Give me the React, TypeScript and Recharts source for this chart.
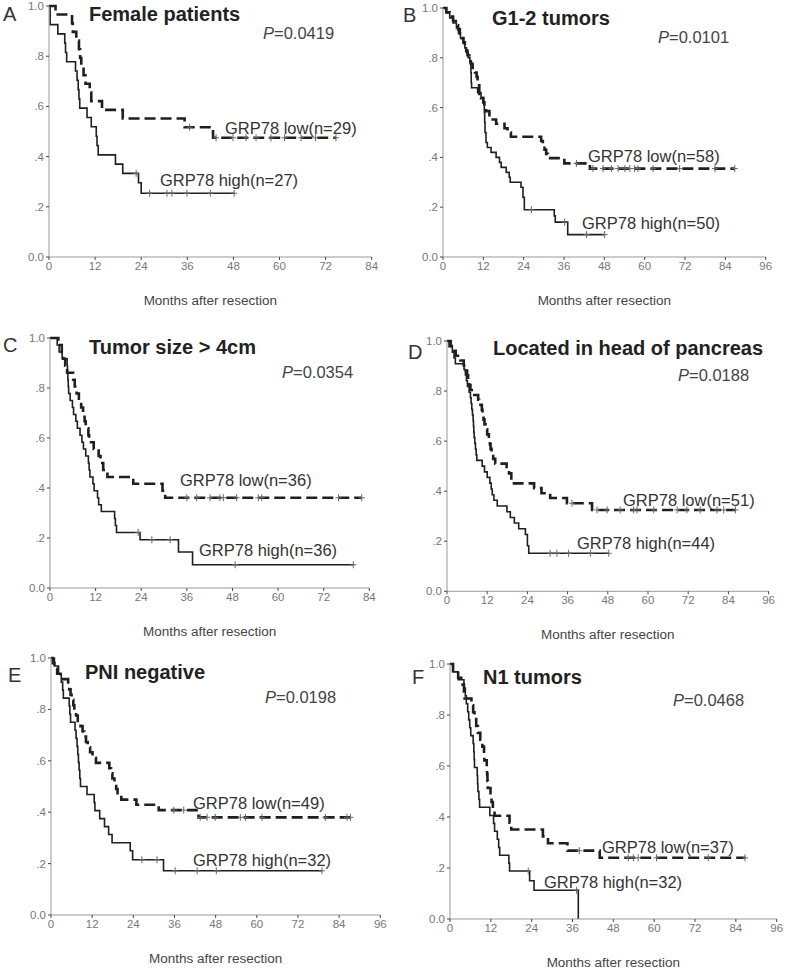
import React from 'react';
import { ComposedChart, Line, XAxis, YAxis, Label } from 'recharts';

// ---- tick labels ----
const xTicks84 = [0, 12, 24, 36, 48, 60, 72, 84];
const xTicks96 = [0, 12, 24, 36, 48, 60, 72, 84, 96];
const yTicks = [0, 0.2, 0.4, 0.6, 0.8, 1];
const yTickLabels = ['0.0', '.2', '.4', '.6', '.8', '1.0'];

// ---- panel texts ----
const panelLetters = ['A', 'B', 'C', 'D', 'E', 'F'];
const panelTitles = ['Female patients', 'G1-2 tumors', 'Tumor size > 4cm', 'Located in head of pancreas', 'PNI negative', 'N1 tumors'];
const pValues = ['0.0419', '0.0101', '0.0354', '0.0188', '0.0198', '0.0468'];
const lowN = [29, 58, 36, 51, 49, 37];
const highN = [27, 50, 36, 44, 32, 32];

// ---- Kaplan-Meier steps [month, survival] and censored months ----
const aLowSteps = [[0, 1], [1.7, 0.966], [6.0, 0.931], [6.2, 0.897], [7.1, 0.862], [7.8, 0.828], [8.1, 0.793], [8.4, 0.759], [9.0, 0.724], [9.5, 0.69], [10.6, 0.655], [11.0, 0.621], [13.8, 0.586], [19.2, 0.552], [35.3, 0.517], [42.7, 0.475]];
const aLowCensored = [36.6, 43.5, 47.9, 51.3, 53.9, 57.8, 61.3, 65.6, 69.4, 74.7];
const aHighSteps = [[0, 1], [0.3, 0.926], [2.3, 0.889], [4.1, 0.852], [4.3, 0.815], [4.6, 0.778], [6.9, 0.741], [7.3, 0.704], [7.6, 0.667], [7.8, 0.63], [8.0, 0.593], [9.9, 0.556], [11.0, 0.519], [12.3, 0.481], [12.5, 0.444], [12.8, 0.407], [17.3, 0.37], [19.2, 0.333], [23.3, 0.296], [24.0, 0.254]];
const aHighCensored = [22.7, 26.2, 30.7, 32.0, 35.9, 42.0, 48.2];

const bLowSteps = [[0, 1], [1.0, 0.983], [2.0, 0.966], [3.0, 0.948], [3.8, 0.931], [4.5, 0.914], [5.0, 0.897], [5.6, 0.879], [6.1, 0.862], [6.5, 0.845], [6.9, 0.828], [7.3, 0.81], [7.8, 0.793], [8.3, 0.776], [8.8, 0.759], [9.5, 0.741], [10.0, 0.724], [10.3, 0.69], [10.8, 0.655], [11.3, 0.638], [12.0, 0.621], [12.3, 0.603], [12.8, 0.586], [13.8, 0.569], [14.8, 0.552], [15.8, 0.535], [18.3, 0.517], [19.2, 0.5], [20.2, 0.483], [29.2, 0.466], [29.7, 0.448], [30.2, 0.431], [30.7, 0.414], [31.2, 0.397], [36.1, 0.376], [43.7, 0.355]];
const bLowCensored = [39.7, 44.6, 47.6, 50.1, 52.1, 54.1, 55.6, 57.0, 58.0, 62.5, 70.4, 80.9, 86.8];
const bHighSteps = [[0, 1], [1.0, 0.98], [2.0, 0.96], [3.0, 0.94], [4.0, 0.92], [4.6, 0.9], [5.2, 0.88], [6.0, 0.86], [6.5, 0.84], [7.0, 0.82], [7.5, 0.8], [8.0, 0.78], [8.3, 0.74], [8.4, 0.7], [8.5, 0.68], [10.3, 0.66], [11.3, 0.64], [12.0, 0.62], [12.3, 0.58], [12.4, 0.54], [12.5, 0.5], [12.8, 0.46], [13.2, 0.44], [14.3, 0.42], [15.8, 0.4], [16.8, 0.38], [17.3, 0.36], [18.8, 0.34], [19.7, 0.32], [20.0, 0.3], [23.2, 0.28], [23.8, 0.24], [24.2, 0.19], [33.1, 0.165], [33.4, 0.14], [37.1, 0.09]];
const bHighCensored = [26.3, 36.2, 42.7, 48.1];

const cLowSteps = [[0, 1], [2.2, 0.972], [3.1, 0.944], [3.5, 0.917], [4.0, 0.889], [4.5, 0.861], [6.1, 0.833], [6.5, 0.806], [7.0, 0.778], [7.6, 0.75], [8.2, 0.722], [8.7, 0.694], [9.1, 0.667], [9.4, 0.639], [10.1, 0.611], [10.3, 0.583], [11.5, 0.556], [12.8, 0.528], [13.3, 0.5], [14.0, 0.472], [15.1, 0.444], [21.9, 0.417], [29.6, 0.389], [30.3, 0.361]];
const cLowCensored = [36.0, 38.6, 42.1, 44.7, 45.6, 49.1, 54.8, 55.7, 75.9, 82.0];
const cHighSteps = [[0, 1], [1.9, 0.972], [2.4, 0.944], [3.2, 0.917], [4.5, 0.889], [4.6, 0.861], [4.7, 0.833], [4.8, 0.806], [4.9, 0.778], [5.3, 0.75], [5.9, 0.722], [6.2, 0.694], [6.8, 0.667], [7.2, 0.639], [7.9, 0.611], [8.4, 0.583], [8.8, 0.556], [9.4, 0.528], [10.1, 0.5], [10.3, 0.472], [10.5, 0.444], [11.3, 0.417], [11.6, 0.389], [12.5, 0.361], [12.8, 0.333], [13.5, 0.306], [17.0, 0.278], [17.2, 0.25], [17.5, 0.222], [23.7, 0.193], [33.8, 0.144], [37.5, 0.093]];
const cHighCensored = [23.2, 26.8, 31.6, 48.7, 79.8];

const dLowSteps = [[0, 1], [1.1, 0.98], [2.0, 0.961], [2.6, 0.941], [4.0, 0.922], [5.0, 0.902], [5.6, 0.882], [6.0, 0.863], [6.3, 0.843], [6.6, 0.824], [7.0, 0.804], [7.4, 0.784], [9.3, 0.765], [9.6, 0.745], [10.4, 0.725], [10.6, 0.706], [10.9, 0.686], [11.2, 0.667], [11.5, 0.647], [12.0, 0.627], [12.5, 0.608], [12.8, 0.588], [13.0, 0.569], [13.3, 0.549], [13.8, 0.529], [14.4, 0.51], [17.8, 0.49], [18.5, 0.471], [19.2, 0.451], [20.0, 0.431], [26.0, 0.412], [28.2, 0.392], [30.8, 0.373], [35.8, 0.352], [43.3, 0.325]];
const dLowCensored = [37.3, 44.8, 47.8, 51.7, 55.7, 56.7, 61.7, 68.7, 71.6, 75.6, 80.6, 82.6, 86.1];
const dHighSteps = [[0, 1], [0.6, 0.977], [1.6, 0.955], [2.1, 0.932], [2.5, 0.909], [5.1, 0.886], [5.5, 0.864], [5.8, 0.841], [6.1, 0.818], [6.6, 0.795], [7.0, 0.773], [7.2, 0.75], [7.4, 0.727], [7.6, 0.705], [7.8, 0.682], [7.9, 0.659], [8.0, 0.636], [8.1, 0.614], [8.3, 0.591], [8.5, 0.568], [8.7, 0.545], [8.9, 0.523], [10.5, 0.5], [11.2, 0.477], [12.0, 0.455], [12.8, 0.432], [13.2, 0.409], [13.5, 0.386], [14.0, 0.364], [15.0, 0.341], [17.9, 0.318], [18.9, 0.295], [20.1, 0.273], [21.4, 0.25], [23.4, 0.227], [24.0, 0.182], [24.4, 0.152]];
const dHighCensored = [30.8, 32.8, 36.3, 42.8, 48.3];

const eLowSteps = [[0, 1], [0.5, 0.98], [1.0, 0.959], [1.8, 0.939], [2.8, 0.918], [5.0, 0.898], [5.3, 0.878], [5.7, 0.857], [6.0, 0.837], [6.5, 0.816], [6.8, 0.796], [7.3, 0.776], [7.8, 0.755], [8.6, 0.735], [9.2, 0.714], [9.7, 0.694], [10.2, 0.673], [10.7, 0.653], [11.4, 0.633], [12.1, 0.612], [13.1, 0.592], [17.0, 0.571], [17.5, 0.551], [17.9, 0.531], [18.5, 0.51], [19.0, 0.49], [19.4, 0.469], [20.5, 0.449], [24.9, 0.429], [31.4, 0.408], [43.0, 0.38]];
const eLowCensored = [35.8, 38.7, 43.5, 45.5, 47.9, 55.2, 56.7, 61.5, 80.0, 86.3, 87.3];
const eHighSteps = [[0, 1], [1.0, 0.969], [2.2, 0.938], [3.0, 0.906], [3.4, 0.875], [3.6, 0.844], [5.3, 0.813], [5.5, 0.781], [5.7, 0.75], [7.0, 0.719], [7.3, 0.688], [7.6, 0.656], [7.8, 0.625], [8.0, 0.594], [8.2, 0.563], [8.4, 0.531], [8.6, 0.5], [10.5, 0.469], [12.6, 0.438], [12.8, 0.406], [14.2, 0.375], [15.6, 0.344], [16.8, 0.313], [17.8, 0.281], [23.1, 0.25], [23.8, 0.215], [32.8, 0.172]];
const eHighCensored = [26.5, 30.9, 36.2, 42.6, 48.2, 79.0];

const fLowSteps = [[0, 1], [0.9, 0.973], [2.4, 0.946], [3.3, 0.919], [4.1, 0.892], [4.3, 0.865], [6.3, 0.838], [6.8, 0.811], [7.2, 0.784], [7.7, 0.757], [8.2, 0.73], [8.9, 0.703], [9.5, 0.676], [10.0, 0.649], [10.1, 0.622], [10.8, 0.595], [10.9, 0.568], [11.0, 0.541], [11.1, 0.514], [11.9, 0.486], [12.2, 0.459], [12.6, 0.432], [13.1, 0.405], [17.5, 0.378], [18.0, 0.351], [27.3, 0.324], [28.8, 0.297], [34.5, 0.268], [44.0, 0.24]];
const fLowCensored = [38.0, 52.4, 53.9, 55.3, 60.7, 75.9, 86.7];
const fHighSteps = [[0, 1], [0.9, 0.969], [2.4, 0.938], [4.1, 0.906], [4.5, 0.875], [4.8, 0.844], [5.2, 0.813], [5.5, 0.781], [5.8, 0.75], [6.1, 0.719], [6.8, 0.688], [7.0, 0.656], [7.1, 0.625], [7.2, 0.594], [8.0, 0.563], [8.1, 0.531], [8.2, 0.5], [8.5, 0.469], [8.7, 0.438], [11.7, 0.406], [12.8, 0.375], [13.1, 0.344], [13.9, 0.313], [14.3, 0.281], [14.6, 0.25], [17.3, 0.219], [17.5, 0.188], [23.4, 0.15], [24.7, 0.113], [37.7, 0]];
const fHighCensored = [23.0, 37.2];

const FONT = '"Liberation Sans", Arial, sans-serif';
const INK = '#1f1f1f';

// merge event steps and censored times into one step series
function kmSeries(steps: number[][], censored: number[]) {
  const pts = steps.map(([t, s]) => ({ t, s, c: false }));
  censored.forEach((t) => {
    let s = steps[0][1];
    for (const [st, sv] of steps) if (st <= t) s = sv;
    pts.push({ t, s, c: true });
  });
  return pts.sort((a, b) => a.t - b.t);
}

const censorDot = (props: any) => {
  const { cx, cy, payload, index } = props;
  if (!payload || !payload.c || cx == null) return <g key={`n${index}`} />;
  return (
    <path
      key={`c${index}`}
      d={`M${cx},${cy - 3.5}V${cy + 3.5}M${cx - 3},${cy}H${cx + 3}`}
      stroke="#666"
      strokeWidth={1}
      fill="none"
    />
  );
};

// layout of every panel: plot box in page pixels + text anchors (left x, middle y)
const panels = [
  { x0: 49.3, x1: 372, yTop: 6, yBot: 257, xMax: 84, ticks: xTicks84, low: kmSeries(aLowSteps, aLowCensored), high: kmSeries(aHighSteps, aHighCensored),
    letter: [3, 14], title: [89, 14], p: [263, 33], lowAt: [225, 128], highAt: [160, 180] },
  { x0: 443.3, x1: 766, yTop: 8.3, yBot: 257.3, xMax: 96, ticks: xTicks96, low: kmSeries(bLowSteps, bLowCensored), high: kmSeries(bHighSteps, bHighCensored),
    letter: [403, 15], title: [492, 18], p: [658, 37], lowAt: [588, 156], highAt: [582, 223] },
  { x0: 50, x1: 369.3, yTop: 338.3, yBot: 588.3, xMax: 84, ticks: xTicks84, low: kmSeries(cLowSteps, cLowCensored), high: kmSeries(cHighSteps, cHighCensored),
    letter: [3, 345], title: [89, 347], p: [282, 372], lowAt: [180, 480], highAt: [199, 550] },
  { x0: 446.7, x1: 768.3, yTop: 340.7, yBot: 591, xMax: 96, ticks: xTicks96, low: kmSeries(dLowSteps, dLowCensored), high: kmSeries(dHighSteps, dHighCensored),
    letter: [408, 352], title: [493, 348], p: [678, 375], lowAt: [623, 500], highAt: [577, 543] },
  { x0: 50.7, x1: 380, yTop: 658, yBot: 915, xMax: 96, ticks: xTicks96, low: kmSeries(eLowSteps, eLowCensored), high: kmSeries(eHighSteps, eHighCensored),
    letter: [8, 675], title: [85, 672], p: [265, 697], lowAt: [193, 803], highAt: [193, 860] },
  { x0: 450, x1: 776.7, yTop: 664, yBot: 919, xMax: 96, ticks: xTicks96, low: kmSeries(fLowSteps, fLowCensored), high: kmSeries(fHighSteps, fHighCensored),
    letter: [412, 677], title: [483, 677], p: [673, 700], lowAt: [602, 847], highAt: [544, 882] },
];

const Y_W = 45;
const M_TOP = 12;
const M_RIGHT = 16;
const M_BOTTOM = 8;
const X_H = 48;

function KmPanel({ p }: { p: any }) {
  const width = p.x1 - p.x0 + Y_W + M_RIGHT;
  const height = p.yBot - p.yTop + M_TOP + X_H + M_BOTTOM;
  return (
    <div style={{ position: 'absolute', left: p.x0 - Y_W, top: p.yTop - M_TOP }}>
      <ComposedChart width={width} height={height} margin={{ top: M_TOP, right: M_RIGHT, left: 0, bottom: M_BOTTOM }}>
        <XAxis
          type="number"
          dataKey="t"
          domain={[0, p.xMax]}
          ticks={p.ticks}
          interval={0}
          height={X_H}
          stroke="#999"
          tickSize={3}
          tickLine={{ stroke: '#444' }}
          tick={{ fill: '#777', fontSize: 11.5, fontFamily: FONT }}
        >
          <Label value="Months after resection" position="insideBottom" offset={0} style={{ fill: '#444', fontSize: 13.5, fontFamily: FONT }} />
        </XAxis>
        <YAxis
          type="number"
          domain={[0, 1]}
          ticks={yTicks}
          interval={0}
          width={Y_W}
          stroke="#999"
          tickSize={3}
          tickLine={{ stroke: '#444' }}
          tick={{ fill: '#777', fontSize: 11.5, fontFamily: FONT }}
          tickFormatter={(v: number) => yTickLabels[yTicks.indexOf(v)] ?? String(v)}
        />
        <Line data={p.low} dataKey="s" type="stepAfter" stroke={INK} strokeWidth={2.6} strokeDasharray="11 5" dot={censorDot} activeDot={false} isAnimationActive={false} />
        <Line data={p.high} dataKey="s" type="stepAfter" stroke={INK} strokeWidth={1.6} dot={censorDot} activeDot={false} isAnimationActive={false} />
      </ComposedChart>
    </div>
  );
}

export default function App() {
  return (
    <div style={{ position: 'absolute', left: 0, top: 0, width: 787, height: 972, background: '#fff', fontFamily: FONT }}>
      {panels.map((p, i) => (
        <KmPanel key={i} p={p} />
      ))}
      <svg width={787} height={972} style={{ position: 'absolute', left: 0, top: 0, pointerEvents: 'none' }}>
        {panels.map((p, i) => (
          <g key={i} fontFamily={FONT} dominantBaseline="central">
            <text x={p.letter[0]} y={p.letter[1]} fontSize={20} fill="#333">{panelLetters[i]}</text>
            <text x={p.title[0]} y={p.title[1]} fontSize={20} fontWeight="bold" fill="#222">{panelTitles[i]}</text>
            <text x={p.p[0]} y={p.p[1]} fontSize={16.5} fill="#444">
              <tspan fontStyle="italic">P</tspan>={pValues[i]}
            </text>
            <text x={p.lowAt[0]} y={p.lowAt[1]} fontSize={16.5} fill="#333">GRP78 low(n={lowN[i]})</text>
            <text x={p.highAt[0]} y={p.highAt[1]} fontSize={16.5} fill="#333">GRP78 high(n={highN[i]})</text>
          </g>
        ))}
      </svg>
    </div>
  );
}
